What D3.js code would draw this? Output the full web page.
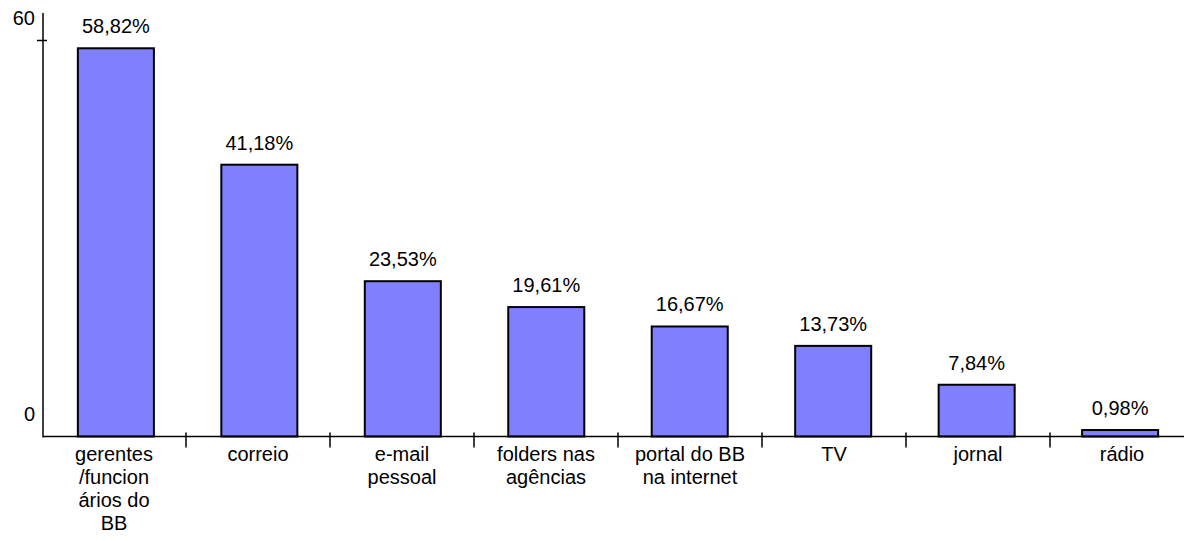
<!DOCTYPE html>
<html>
<head>
<meta charset="utf-8">
<script src="https://cdn.jsdelivr.net/npm/d3@7"></script>
<style>
  html, body { margin: 0; padding: 0; background: #fff; }
  svg { display: block; font-family: "Liberation Sans", Arial, sans-serif; }
</style>
</head>
<body>
<svg id="chart" width="1184" height="541"></svg>
<script>
// Categories (line breaks as shown under each bar)
const categories = [
  "gerentes\n/funcion\nários do\nBB",
  "correio",
  "e-mail\npessoal",
  "folders nas\nagências",
  "portal do BB\nna internet",
  "TV",
  "jornal",
  "rádio"
];
// Share of respondents per channel, in percent
const values = [58.82, 41.18, 23.53, 19.61, 16.67, 13.73, 7.84, 0.98];
// Value-axis tick labels
const yTicks = [0, 60];

(function draw() {
  const svg = d3.select("#chart");
  const W = 1184;
  const plotLeft = 42, plotRight = 1194, plotBottom = 436.5, plotTop = 40.5;

  const fmt = v => v.toFixed(2).replace(".", ",") + "%";

  // Bands for the category slots (ticks sit on their edges)
  const slot = d3.scaleBand().domain(categories).range([plotLeft, plotRight]).padding(0);
  // Bars inside each slot
  const x = d3.scaleBand().domain(categories).range([plotLeft, plotRight])
    .paddingInner(0.47).paddingOuter(0.25);
  const y = d3.scaleLinear().domain([0, 60]).range([plotBottom, plotTop]);

  // Bars
  svg.append("g").selectAll("rect")
    .data(values)
    .join("rect")
    .attr("x", (d, i) => x(categories[i]))
    .attr("y", d => y(d))
    .attr("width", x.bandwidth())
    .attr("height", d => y(0) - y(d))
    .attr("fill", "#8080ff")
    .attr("stroke", "#000")
    .attr("stroke-width", 2);

  // Value labels above bars
  svg.append("g").selectAll("text")
    .data(values)
    .join("text")
    .attr("x", (d, i) => x(categories[i]) + x.bandwidth() / 2)
    .attr("y", d => y(d) - 15)
    .attr("text-anchor", "middle")
    .attr("font-size", 20)
    .attr("fill", "#000")
    .text(d => fmt(d));

  // Value axis
  svg.append("line")
    .attr("x1", 43).attr("x2", 43)
    .attr("y1", 13).attr("y2", plotBottom + 1)
    .attr("stroke", "#000").attr("stroke-width", 1.5);

  const yAxis = svg.append("g");
  yAxis.selectAll("line")
    .data(yTicks.filter(t => t !== 0))
    .join("line")
    .attr("x1", 37).attr("x2", 47)
    .attr("y1", d => y(d)).attr("y2", d => y(d))
    .attr("stroke", "#000").attr("stroke-width", 1.5);
  yAxis.selectAll("text")
    .data(yTicks)
    .join("text")
    .attr("x", 35)
    .attr("y", d => y(d) - 16)
    .attr("text-anchor", "end")
    .attr("font-size", 20)
    .attr("fill", "#000")
    .text(d => d);

  // Category axis
  svg.append("line")
    .attr("x1", 43).attr("x2", W)
    .attr("y1", plotBottom).attr("y2", plotBottom)
    .attr("stroke", "#000").attr("stroke-width", 1.5);

  svg.append("g").selectAll("line")
    .data(categories.slice(1))
    .join("line")
    .attr("x1", d => slot(d)).attr("x2", d => slot(d))
    .attr("y1", plotBottom - 4).attr("y2", plotBottom + 11)
    .attr("stroke", "#000").attr("stroke-width", 1.5);

  // Category labels
  svg.append("g").selectAll("text")
    .data(categories)
    .join("text")
    .attr("y", 461)
    .attr("text-anchor", "middle")
    .attr("font-size", 20)
    .attr("fill", "#000")
    .each(function (d) {
      const t = d3.select(this);
      const cx = slot(d) + slot.bandwidth() / 2;
      d.split("\n").forEach((line, k) => {
        t.append("tspan").attr("x", cx).attr("dy", k === 0 ? 0 : 23).text(line);
      });
    });
})();
</script>
</body>
</html>
